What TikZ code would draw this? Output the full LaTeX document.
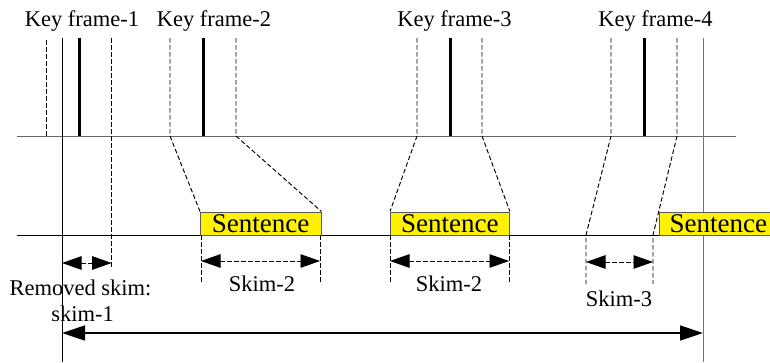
\documentclass[tikz,border=0pt]{standalone}
\usepackage{fontspec}
\setmainfont{Liberation Serif}
\usetikzlibrary{arrows.meta}
\begin{document}
\begin{tikzpicture}[x=1pt,y=-1pt,
  axis/.style={line width=1pt},
  keyline/.style={line width=3pt},
  guide/.style={line width=0.95pt, dash pattern=on 4.5pt off 2.5pt},
  span/.style={guide, {Triangle[length=19.5pt,width=13.5pt]}-{Triangle[length=19.5pt,width=13.5pt]}},
  total/.style={line width=1.4pt, {Triangle[length=23pt,width=15pt]}-{Triangle[length=23pt,width=15pt]}},
  lbl/.style={font=\fontsize{22.5}{27}\selectfont, inner sep=0pt, anchor=base},
  sent/.style={draw=black!65, fill=yellow, line width=0.9pt, minimum height=23.5pt,
               inner sep=0pt, anchor=north west, font=\fontsize{27}{30}\selectfont}
]
\useasboundingbox (0,0) rectangle (770,362);
\clip (0,0) rectangle (770,362);

% time axes
\coordinate (tl) at (17,136);  \coordinate (tr) at (736,136);
\coordinate (bl) at (17,235);  \coordinate (br) at (770,235);
\draw[axis, draw=black!60] (tl) -- (tr);
\draw[axis] (bl) -- (br);

% bounds of the whole video
\coordinate (lt) at (62,38);   \coordinate (lb) at (62,362);
\coordinate (rt) at (703,38);  \coordinate (rb) at (703,362);
\draw[axis] (lt) -- (lb);
\draw[axis, draw=black!55] (rt) -- (rb);

% key frames
\foreach \n/\x in {1/79,2/203,3/450,4/644}{
  \coordinate (k\n t) at (\x,38);
  \coordinate (k\n b) at (\x,136);
  \draw[keyline] (k\n t) -- (k\n b);
}
\node[lbl] (kf1) at (82,26.7)  {Key frame-1};
\node[lbl] (kf2) at (214,26.7) {Key frame-2};
\node[lbl] (kf3) at (454.5,26.7) {Key frame-3};
\node[lbl] (kf4) at (655.5,26.7) {Key frame-4};

% sentences
\node[sent, minimum width=120.5pt] (s1) at (200,211.5) {Sentence};
\node[sent, minimum width=119pt]   (s2) at (390,211.5) {Sentence};
\node[sent, minimum width=118pt]   (s3) at (659,211.5) {Sentence};

% shot boundaries around key frame 1
\coordinate (a1) at (46,40);    \coordinate (a2) at (46,136);
\draw[guide] (a1) -- (a2);
\coordinate (b1) at (111.7,38); \coordinate (b2) at (111.7,267);
\draw[guide] (b1) -- (b2);

% shot boundaries mapped onto sentences
\coordinate (c1) at (170,38);   \coordinate (c2) at (170,136);
\draw[guide] (c1) -- (c2) -- (s1.north west);
\coordinate (d1) at (236,38);   \coordinate (d2) at (236,136);
\draw[guide] (d1) -- (d2) -- (s1.north east);
\coordinate (e1) at (417,38);   \coordinate (e2) at (417,136);
\draw[guide] (e1) -- (e2) -- (s2.north west);
\coordinate (f1) at (482,38);   \coordinate (f2) at (482,136);
\draw[guide] (f1) -- (f2) -- (s2.north east);
\coordinate (g1) at (611,38);   \coordinate (g2) at (611,136);
\coordinate (g3) at (586,235);  \coordinate (g4) at (586,284);
\draw[guide] (g1) -- (g2) -- (g3) -- (g4);
\coordinate (h1) at (677,38);   \coordinate (h2) at (677,136);
\coordinate (h3) at (653,235);  \coordinate (h4) at (653,284);
\draw[guide] (h1) -- (h2) -- (h3) -- (h4);

% skim extents below the sentences
\coordinate (p1) at (201,235);  \coordinate (p2) at (201,284);
\coordinate (q1) at (320,235);  \coordinate (q2) at (320,284);
\coordinate (u1) at (390,235);  \coordinate (u2) at (390,284);
\coordinate (v1) at (509,235);  \coordinate (v2) at (509,284);
\draw[guide] (p1) -- (p2);
\draw[guide] (q1) -- (q2);
\draw[guide] (u1) -- (u2);
\draw[guide] (v1) -- (v2);

% skim arrows
\coordinate (m1) at (62,263);   \coordinate (m2) at (111.7,263);
\draw[span] (m1) -- (m2);
\coordinate (n1) at (201,261);  \coordinate (n2) at (320,261);
\draw[span] (n1) -- (n2);
\coordinate (o1) at (390,261);  \coordinate (o2) at (509,261);
\draw[span] (o1) -- (o2);
\coordinate (w1) at (586,262);  \coordinate (w2) at (653,262);
\draw[span] (w1) -- (w2);

\node[lbl] (rm1) at (80.5,295)  {Removed skim:};
\node[lbl] (rm2) at (82.5,321.7) {skim-1};
\node[lbl] (sk2a) at (262,291.7) {Skim-2};
\node[lbl] (sk2b) at (449,291.7) {Skim-2};
\node[lbl] (sk3) at (619,306.7) {Skim-3};

% whole-video span
\coordinate (z1) at (62,333);   \coordinate (z2) at (703,333);
\draw[total] (z1) -- (z2);
\end{tikzpicture}
\end{document}
